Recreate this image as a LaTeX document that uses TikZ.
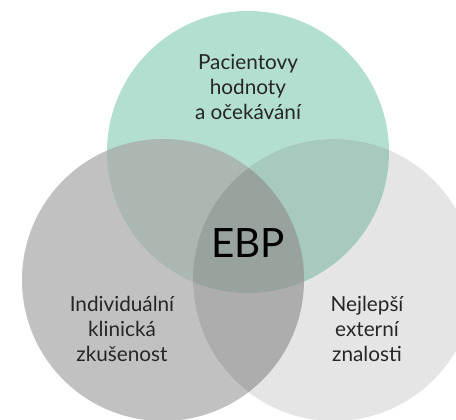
\documentclass[tikz,border=0pt]{standalone}
\usepackage{fontspec}
\setmainfont{Lato}
\definecolor{pacgreen}{HTML}{B3DFD0}
\definecolor{klingrey}{HTML}{C1C1C1}
\definecolor{extgrey}{HTML}{E5E5E5}
\definecolor{pkmix}{HTML}{ABB8B2}
\definecolor{pemix}{HTML}{A6CABD}
\definecolor{kemix}{HTML}{ADADAD}
\definecolor{ebpmix}{HTML}{98A39D}
\usetikzlibrary{calc, positioning}

\begin{document}
\begin{tikzpicture}[x=0.02cm, y=-0.02cm,
  lbl/.style={align=center, font=\fontsize{11.8}{14.2}\selectfont, text=black!85}]
  \useasboundingbox (0,0) rectangle (456,419);
  % Circles
  \coordinate (pac) at (248,152);
  \coordinate (kli) at (163,280);
  \coordinate (ext) at (334,280);
  \def\rad{141}
  \fill[pacgreen] (pac) circle (\rad);
  \fill[klingrey] (kli) circle (\rad);
  \fill[extgrey] (ext) circle (\rad);

  % Overlaps
  \begin{scope}
    \clip (pac) circle (\rad);
    \fill[pkmix] (kli) circle (\rad);
    \fill[pemix] (ext) circle (\rad);
  \end{scope}
  \begin{scope}
    \clip (kli) circle (\rad);
    \fill[kemix] (ext) circle (\rad);
    \clip (pac) circle (\rad);
    \fill[ebpmix] (ext) circle (\rad);
  \end{scope}

  % Labels
  \node[lbl] (pactext) at (248,87) {Pacientovy\\hodnoty\\a očekávání};
  \node[lbl] (klitext) at (122,329) {Individuální\\klinická\\zkušenost};
  \node[lbl] (exttext) at (367,329) {Nejlepší\\externí\\znalosti};
  \node[font=\fontsize{23}{26}\selectfont, text=black] (ebp) at (248,243) {EBP};
\end{tikzpicture}
\end{document}
